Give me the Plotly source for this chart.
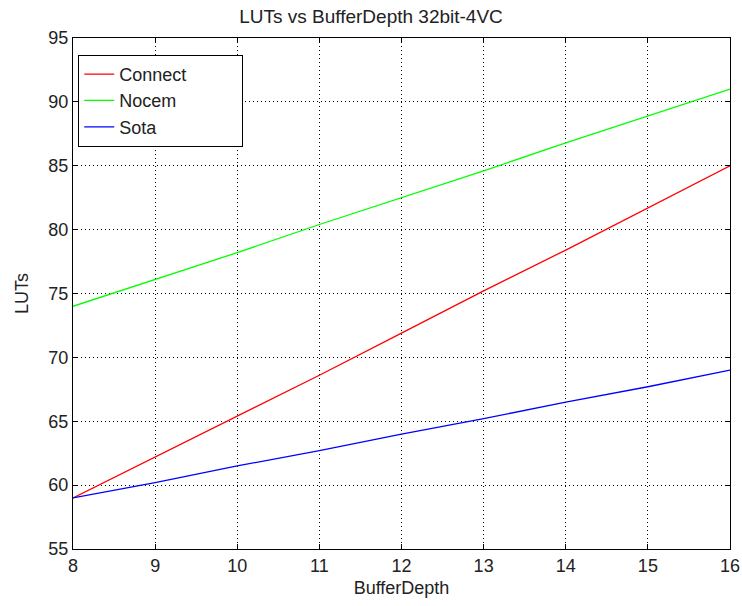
import plotly.graph_objects as go

buffer_depth = [8, 9, 10, 11, 12, 13, 14, 15, 16]
connect = [59, 62.2, 65.4, 68.6, 71.9, 75.2, 78.4, 81.7, 85]
nocem = [74, 76.1, 78.2, 80.4, 82.5, 84.6, 86.8, 88.9, 91]
sota = [59, 60.2, 61.5, 62.7, 64, 65.2, 66.5, 67.7, 69]

series = [
    ('Connect', connect, '#ff0000'),
    ('Nocem', nocem, '#00ff00'),
    ('Sota', sota, '#0000ff'),
]

pad = '\u00a0' * 10  # widen the legend box like the matlab one

fig = go.Figure()
for name, vals, color in series:
    fig.add_trace(go.Scatter(
        x=buffer_depth,
        y=vals,
        mode='lines',
        name=name + pad,
        line=dict(color=color, width=1.3),
    ))

# matlab look: box, inward ticks, dotted grid
axis_style = dict(
    showline=True,
    linecolor='black',
    linewidth=1,
    mirror='allticks',
    ticks='inside',
    ticklen=5,
    tickcolor='black',
    showgrid=True,
    gridcolor='black',
    griddash='1px,3px',
    gridwidth=1,
    zeroline=False,
    automargin=False,
    tickfont=dict(size=18, color='#222'),
)

fig.update_layout(
    width=742,
    height=606,
    paper_bgcolor='white',
    plot_bgcolor='white',
    font=dict(family='Liberation Sans, Arial, sans-serif', color='#222'),
    title=dict(text='LUTs vs BufferDepth 32bit-4VC', x=0.5, xanchor='center',
               y=0.973, yanchor='middle', font=dict(size=19)),
    margin=dict(l=73, r=12, t=38, b=57),
    showlegend=True,
    legend=dict(
        x=0.008, y=0.967, xanchor='left', yanchor='top',
        bgcolor='white', bordercolor='black', borderwidth=1,
        font=dict(size=18),
        tracegroupgap=0,
    ),
)
fig.update_xaxes(range=[8, 16], dtick=1, title=dict(text='BufferDepth', font=dict(size=18), standoff=6), **axis_style)
fig.update_yaxes(range=[55, 95], dtick=5, title=dict(text='LUTs', font=dict(size=18), standoff=15), **axis_style)

# drop the default body margin so the figure sits at the page corner
fig.write_html("out.html", config={'displayModeBar': False},
               post_script="document.body.style.margin='0';")
